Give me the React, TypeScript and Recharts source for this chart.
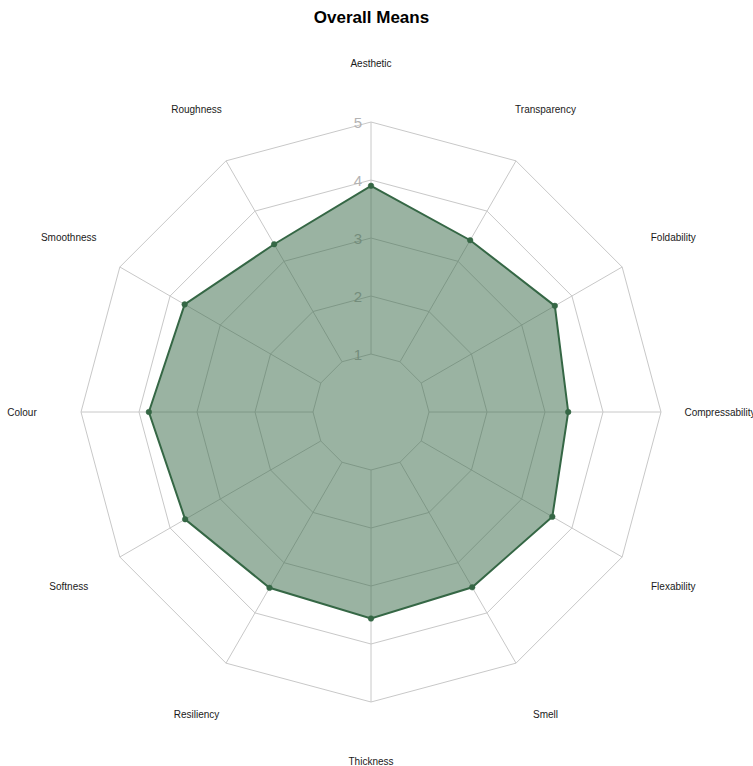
import { RadarChart, Radar, PolarGrid, PolarAngleAxis, PolarRadiusAxis } from "recharts";

// Médias gerais por atributo (escala 1–5).
const ATTRIBUTES = [
  "Aesthetic",
  "Transparency",
  "Foldability",
  "Compressability",
  "Flexability",
  "Smell",
  "Thickness",
  "Resiliency",
  "Softness",
  "Colour",
  "Smoothness",
  "Roughness",
];
const MEANS = [3.9, 3.42, 3.66, 3.4, 3.61, 3.49, 3.56, 3.5, 3.7, 3.83, 3.71, 3.34];
const LEVELS = [1, 2, 3, 4, 5];

const W = 753;
const H = 766;
const CX = 371;
const CY = 412;
const R_OUT = 290;
const LABEL_R = 349;
const GREEN = "#356745";

const data = ATTRIBUTES.map((name, i) => ({ name, mean: MEANS[i] }));

function AngleTick(props: any) {
  const { x, y, payload } = props;
  const dx = x - CX;
  const dy = y - CY;
  const len = Math.hypot(dx, dy) || 1;
  return (
    <text
      x={CX + (dx / len) * LABEL_R}
      y={CY + (dy / len) * LABEL_R}
      textAnchor="middle"
      dominantBaseline="central"
      fontSize={10}
      fontFamily="'Liberation Sans', Arial, sans-serif"
      fill="#1a1a1a"
    >
      {payload.value}
    </text>
  );
}

// no original os rótulos ficam sob o preenchimento; dentro da área usa-se o tom já mesclado
function RadiusTick(props: any) {
  const { x, y, payload } = props;
  const inside = payload.value < MEANS[0];
  return (
    <text
      x={x - 9}
      y={y}
      textAnchor="end"
      dominantBaseline="central"
      fontSize={15}
      fontFamily="'Liberation Sans', Arial, sans-serif"
      fill={inside ? "#748d7c" : "#b3b3b3"}
    >
      {payload.value}
    </text>
  );
}

export default function App() {
  return (
    <div style={{ position: "absolute", left: 0, top: 0, width: W, height: H, background: "#fff" }}>
      <div
        style={{
          position: "absolute",
          top: 8,
          left: 0,
          width: W - 10,
          textAlign: "center",
          fontFamily: "'Liberation Sans', Arial, sans-serif",
          fontWeight: "bold",
          fontSize: 17,
          color: "#000",
        }}
      >
        Overall Means
      </div>
      <RadarChart
        width={W}
        height={H}
        data={data}
        cx={CX}
        cy={CY}
        innerRadius={58}
        outerRadius={R_OUT}
        margin={{ top: 0, right: 0, bottom: 0, left: 0 }}
      >
        <PolarGrid gridType="polygon" stroke="#c8c8c8" strokeWidth={1} />
        <PolarAngleAxis dataKey="name" tick={AngleTick} tickLine={false} axisLine={false} />
        <PolarRadiusAxis
          angle={90}
          domain={[1, 5]}
          ticks={LEVELS as any}
          tickCount={5}
          axisLine={false}
          tickLine={false}
          tick={RadiusTick}
        />
        <Radar
          dataKey="mean"
          stroke={GREEN}
          strokeWidth={2}
          fill={GREEN}
          fillOpacity={0.5}
          dot={{ r: 2.8, fill: GREEN, stroke: GREEN, strokeWidth: 0.5, fillOpacity: 1 }}
          isAnimationActive={false}
        />
      </RadarChart>
    </div>
  );
}
